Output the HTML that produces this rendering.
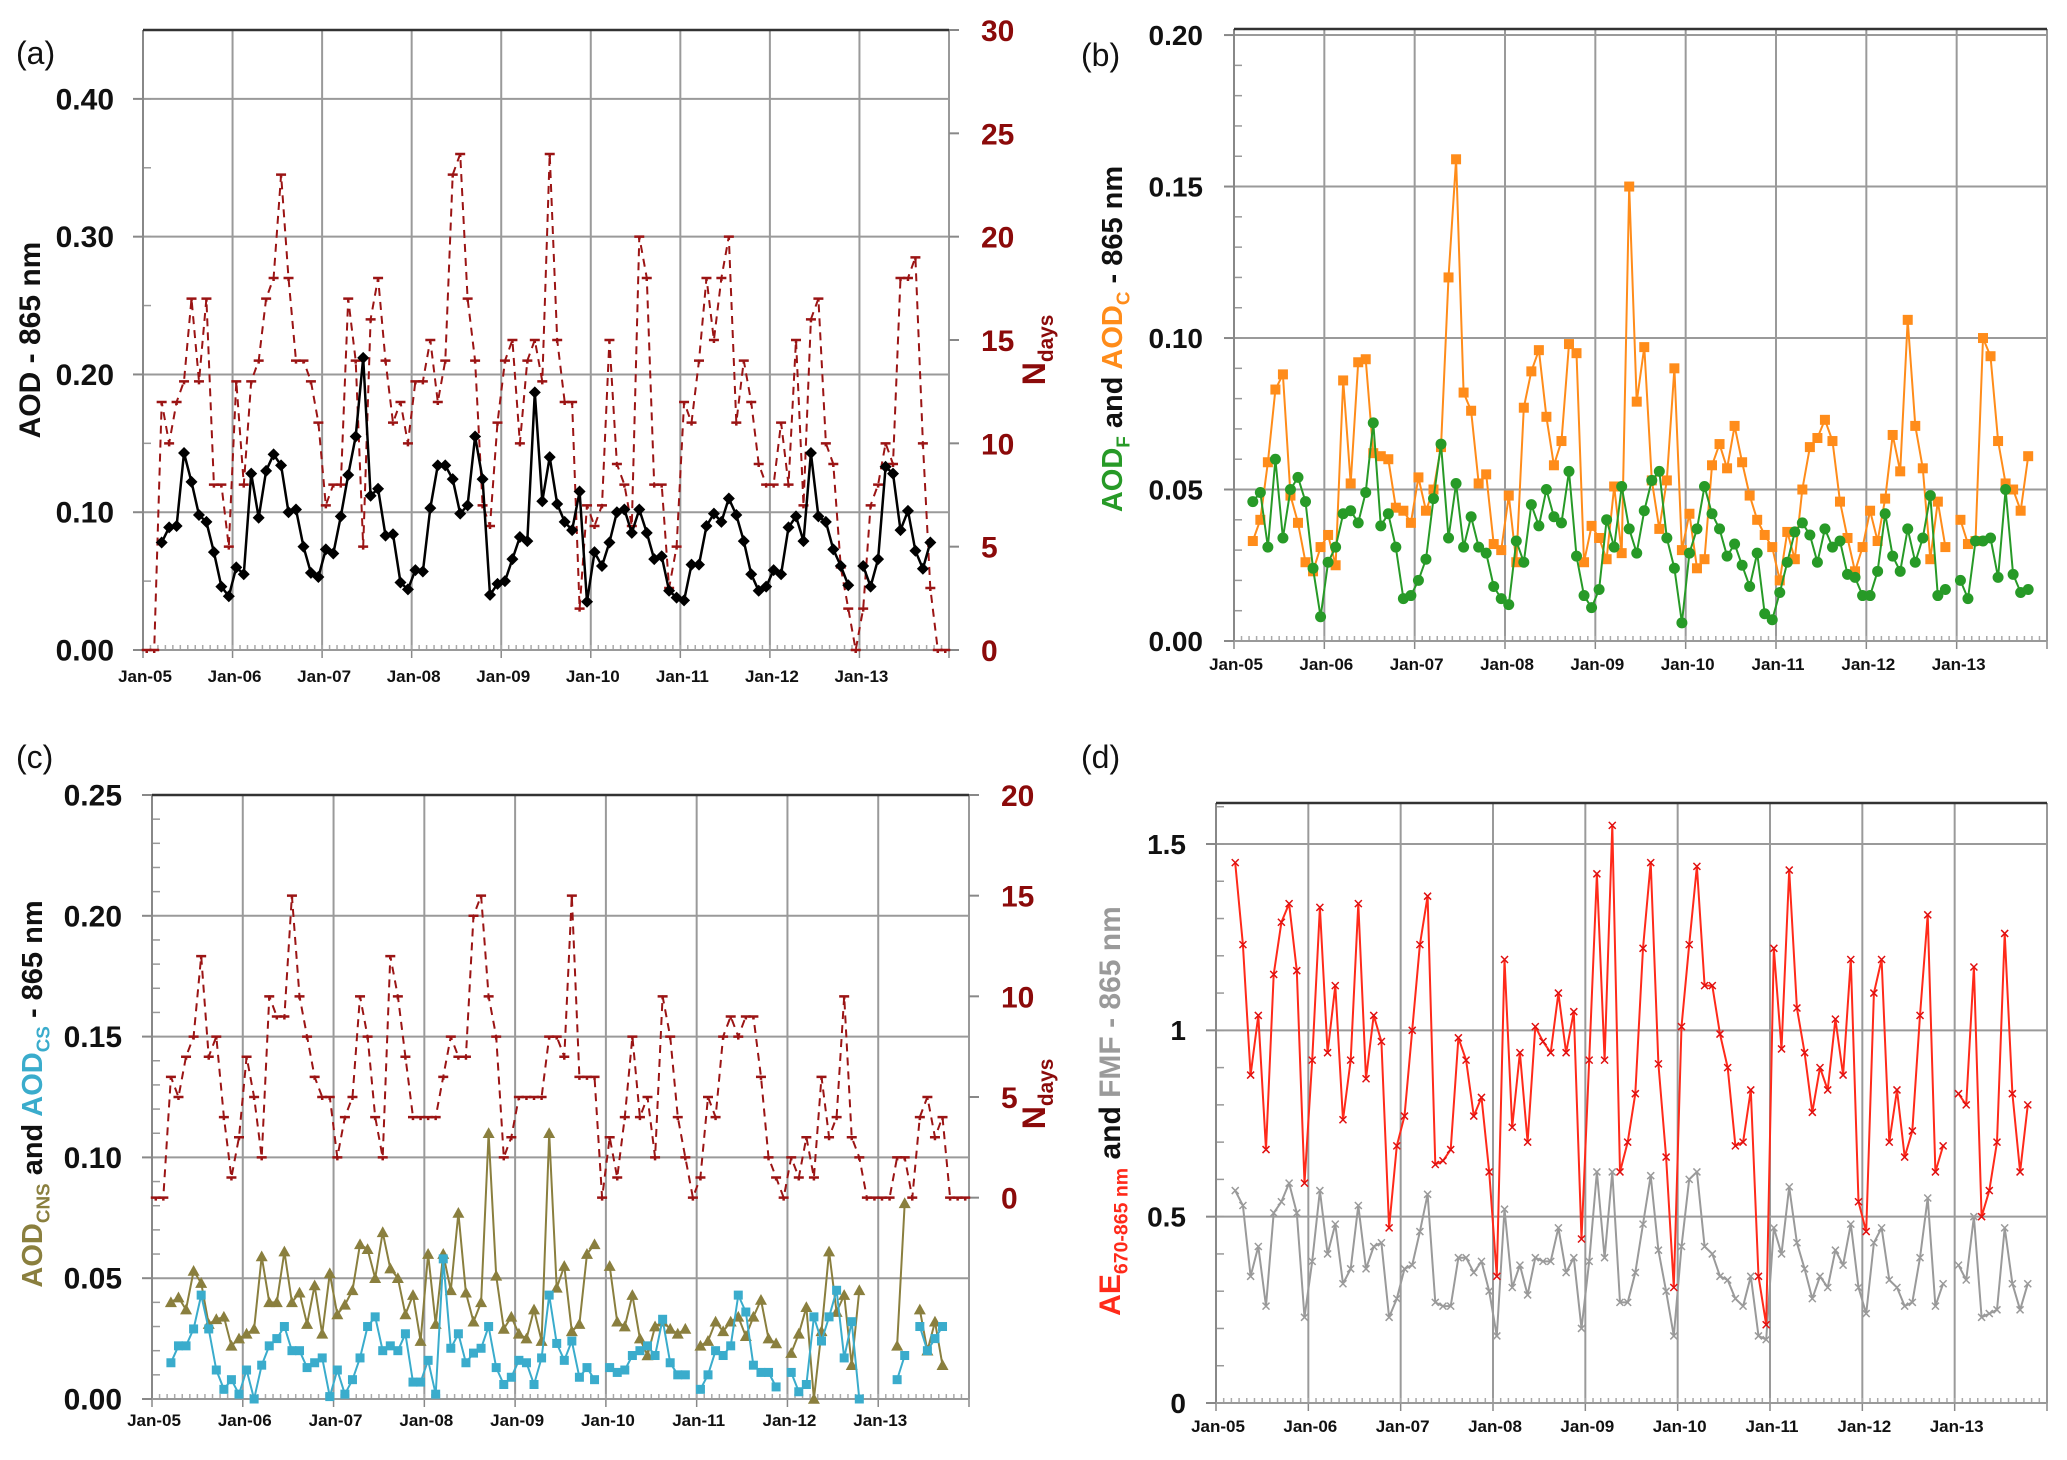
<!DOCTYPE html>
<html><head><meta charset="utf-8"><style>
html,body{margin:0;padding:0;background:#fff;}
svg{display:block;}
text{font-family:"Liberation Sans",sans-serif;}
</style></head><body>
<svg id="fig" xmlns="http://www.w3.org/2000/svg" width="2067" height="1460" viewBox="0 0 2067 1460">
<rect width="2067" height="1460" fill="#fff"/>
</svg>
<script>
// ---------- data (monthly, index 0 = Jan-05) ----------
const xLabels = ["Jan-05","Jan-06","Jan-07","Jan-08","Jan-09","Jan-10","Jan-11","Jan-12","Jan-13"];
const ticksA = [0,0.1,0.2,0.3,0.4];
const ticksARight = [0,5,10,15,20,25,30];
const ticksB = [0,0.05,0.1,0.15,0.2];
const ticksC = [0,0.05,0.1,0.15,0.2,0.25];
const ticksCRight = [0,5,10,15,20];
const ticksD = [0,0.5,1,1.5];
const ticksDLabels = ["0","0.5","1","1.5"];

const aodA = [null,null,
.078,.089,.090,.143,.122,.098,.093,.071,.046,.039,
.060,.055,.128,.096,.130,.142,.134,.100,.102,.075,
.056,.053,.073,.070,.097,.127,.155,.212,.112,.117,
.083,.084,.049,.044,.058,.057,.103,.134,.134,.124,
.099,.105,.155,.124,.040,.048,.050,.066,.082,.079,
.187,.108,.140,.106,.093,.087,.115,.035,.071,.061,
.078,.100,.102,.085,.102,.085,.066,.068,.043,.038,
.036,.062,.062,.090,.099,.093,.110,.098,.079,.055,
.043,.046,.058,.055,.089,.097,.079,.143,.097,.093,
.073,.061,.047,null,
.061,.046,.066,.133,.128,.087,.101,.072,.059,.078];
const ndaysA = [0,0,12,10,12,13,17,13,17,8,8,5,13,8,13,14,17,18,23,18,14,14,13,11,7,8,8,17,14,5,16,18,14,11,12,10,13,13,15,12,14,23,24,17,14,7,6,11,14,15,10,14,15,13,24,15,12,12,2,7,6,7,15,9,8,6,20,18,8,8,3,5,12,11,14,18,15,18,20,11,14,12,9,8,8,11,8,15,7,16,17,10,9,4,2,0,2,7,8,10,9,18,18,19,10,3,0,0];

const aodC = [null,null,
.033,.040,.059,.083,.088,.048,.039,.026,.023,.031,
.035,.025,.086,.052,.092,.093,.062,.061,.060,.044,
.043,.039,.054,.043,.050,.064,.120,.159,.082,.076,
.052,.055,.032,.030,.048,.026,.077,.089,.096,.074,
.058,.066,.098,.095,.026,.038,.034,.027,.051,.029,
.150,.079,.097,.053,.037,.053,.090,.030,.042,.024,
.027,.058,.065,.057,.071,.059,.048,.040,.035,.031,
.020,.036,.027,.050,.064,.067,.073,.066,.046,.034,
.023,.031,.043,.033,.047,.068,.056,.106,.071,.057,
.027,.046,.031,null,
.040,.032,.033,.100,.094,.066,.052,.050,.043,.061];
const aodF = [null,null,
.046,.049,.031,.060,.034,.050,.054,.046,.024,.008,
.026,.031,.042,.043,.039,.049,.072,.038,.042,.031,
.014,.015,.020,.027,.047,.065,.034,.052,.031,.041,
.031,.029,.018,.014,.012,.033,.026,.045,.038,.050,
.041,.039,.056,.028,.015,.011,.017,.040,.031,.051,
.037,.029,.043,.053,.056,.034,.024,.006,.029,.037,
.051,.042,.037,.028,.032,.025,.018,.029,.009,.007,
.016,.026,.036,.039,.035,.026,.037,.031,.033,.022,
.021,.015,.015,.023,.042,.028,.023,.037,.026,.034,
.048,.015,.017,null,
.020,.014,.033,.033,.034,.021,.050,.022,.016,.017];

const aodCNS = [null,null,
.040,.042,.037,.053,.048,.031,.033,.034,.022,.025,
.027,.029,.059,.040,.040,.061,.040,.044,.031,.047,
.027,.052,.035,.039,.045,.064,.062,.050,.069,.054,
.050,.035,.043,.024,.060,.031,.060,.045,.077,.044,
.032,.040,.110,.051,.029,.034,.027,.025,.037,.024,
.110,.046,.055,.028,.031,.060,.064,null,
.055,.032,.030,.043,.025,.018,.030,.032,.029,.027,.029,null,
.022,.024,.032,.028,.032,.034,.026,.034,.041,.025,.023,null,
.019,.027,.038,.000,.028,.061,.036,.043,.014,.045,null,null,null,null,
.022,.081,null,.037,.020,.032,.014];
const aodCS = [null,null,
.015,.022,.022,.029,.043,.029,.012,.004,.008,.002,
.012,.000,.014,.022,.025,.030,.020,.020,.013,.015,
.017,.001,.012,.002,.008,.017,.030,.034,.020,.022,
.020,.027,.007,.007,.016,.002,.058,.021,.027,.015,
.019,.021,.030,.013,.006,.009,.016,.015,.006,.017,
.043,.023,.016,.024,.009,.013,.008,null,
.013,.011,.012,.018,.020,.022,.018,.033,.015,.010,.010,null,
.004,.010,.020,.018,.022,.043,.036,.014,.011,.011,.005,null,
.011,.003,.006,.034,.024,.034,.045,.017,.032,.000,null,null,null,null,
.008,.018,null,.030,.020,.025,.030];
const ndaysC = [0,0,6,5,7,8,12,7,8,4,1,3,7,5,2,10,9,9,15,10,8,6,5,5,2,4,5,10,8,4,2,12,10,7,4,4,4,4,6,8,7,7,14,15,10,8,2,3,5,5,5,5,8,8,7,15,6,6,6,0,3,1,4,8,4,5,2,10,8,4,2,0,1,5,4,8,9,8,9,9,6,2,1,0,2,1,3,1,6,3,4,10,3,2,0,0,0,0,2,2,0,4,5,3,4,0,0,0];

const ae = [null,null,
1.45,1.23,.88,1.04,.68,1.15,1.29,1.34,1.16,.59,
.92,1.33,.94,1.12,.76,.92,1.34,.87,1.04,.97,
.47,.69,.77,1.00,1.23,1.36,.64,.65,.68,.98,
.92,.77,.82,.62,.34,1.19,.74,.94,.70,1.01,
.97,.94,1.10,.94,1.05,.44,.92,1.42,.92,1.55,
.62,.70,.83,1.22,1.45,.91,.66,.31,1.01,1.23,
1.44,1.12,1.12,.99,.90,.69,.70,.84,.34,.21,
1.22,.95,1.43,1.06,.94,.78,.90,.84,1.03,.88,
1.19,.54,.46,1.10,1.19,.70,.84,.66,.73,1.04,
1.31,.62,.69,null,
.83,.80,1.17,.50,.57,.70,1.26,.83,.62,.80];
const fmf = [null,null,
.57,.53,.34,.42,.26,.51,.54,.59,.51,.23,
.38,.57,.40,.48,.32,.36,.53,.36,.42,.43,
.23,.28,.36,.37,.46,.56,.27,.26,.26,.39,
.39,.35,.38,.30,.18,.52,.31,.37,.29,.39,
.38,.38,.47,.35,.39,.20,.38,.62,.39,.62,
.27,.27,.35,.48,.61,.41,.30,.18,.42,.60,
.62,.42,.40,.34,.33,.28,.26,.34,.18,.17,
.47,.40,.58,.43,.36,.28,.34,.31,.41,.37,
.48,.31,.24,.43,.47,.33,.31,.26,.27,.39,
.55,.26,.32,null,
.37,.33,.50,.23,.24,.25,.47,.32,.25,.32];

// ---------- helpers ----------
const NS = "http://www.w3.org/2000/svg";
const svg = document.getElementById('fig');
const NM = 108;
function mk(tag, attrs, parent) {
  const el = document.createElementNS(NS, tag);
  for (const k in attrs) el.setAttribute(k, attrs[k]);
  (parent || svg).appendChild(el);
  return el;
}
function scales(p) {
  return {
    x: i => p.L + (i + 0.5) * (p.R - p.L) / NM,
    xy: k => p.L + k * (p.R - p.L) / 9,
    y: v => p.B - (v - p.ymin) / (p.ymax - p.ymin) * (p.B - p.T)
  };
}
function frame(p, s, g, gridVals, leftLabels, labelSize, labelX, xLabY, minorStep) {
  gridVals.forEach((v, i) => {
    const yy = s.y(v);
    if (v !== 0) {
      const gl = mk('line', {x1:p.L, x2:p.R, y1:yy, y2:yy, stroke:'#9a9a9a', 'stroke-width':2}, g);
      
      
    }
    mk('line', {x1:p.L-10, x2:p.L, y1:yy, y2:yy, stroke:'#888', 'stroke-width':2}, g);
    const t = mk('text', {x:labelX, y:yy + labelSize*0.35, 'text-anchor':'end', 'font-size':labelSize, 'font-weight':'bold', fill:'#111'}, g);
    t.textContent = leftLabels[i];
    
    
  });
  for (let v = p.ymin; v <= p.ymax + 1e-9; v += minorStep) {
    const yy = s.y(v);
    mk('line', {x1:p.L, x2:p.L+8, y1:yy, y2:yy, stroke:'#999', 'stroke-width':1.5}, g);
  }
  for (let k = 1; k <= 8; k++) {
    const xx = s.xy(k);
    const vl = mk('line', {x1:xx, x2:xx, y1:p.T, y2:p.B, stroke:'#9a9a9a', 'stroke-width':2}, g);
    
    
  }
  for (let m = 0; m <= NM; m++) {
    const xx = p.L + m * (p.R - p.L) / NM;
    mk('line', {x1:xx, x2:xx, y1:p.B, y2:p.B-5, stroke:'#aaa', 'stroke-width':1.5}, g);
  }
  for (let k = 0; k <= 9; k++) {
    const xx = s.xy(k);
    mk('line', {x1:xx, x2:xx, y1:p.B, y2:p.B+8, stroke:'#888', 'stroke-width':1.5}, g);
  }
  const la = mk('line', {x1:p.L, x2:p.L, y1:p.T, y2:p.B, stroke:'#888', 'stroke-width':2}, g);
  
  
  mk('line', {x1:p.R, x2:p.R, y1:p.T, y2:p.B, stroke:'#999', 'stroke-width':2}, g);
  mk('line', {x1:p.L, x2:p.R, y1:p.T, y2:p.T, stroke:'#333', 'stroke-width':2.5}, g);
  const ba = mk('line', {x1:p.L, x2:p.R, y1:p.B, y2:p.B, stroke:'#999', 'stroke-width':2}, g);
  
  
  xLabels.forEach((lab, k) => {
    const t = mk('text', {x:s.xy(k)+2, y:xLabY, 'text-anchor':'middle', 'font-size':17, 'font-weight':'bold', fill:'#111'}, g);
    t.textContent = lab;
    
    
  });
}
function series(vals, xf, yf, color, width, dash, g, name) {
  let d = '', pen = false;
  vals.forEach((v, i) => {
    if (v === null || v === undefined) { pen = false; return; }
    d += (pen ? 'L' : 'M') + xf(i).toFixed(1) + ' ' + yf(v).toFixed(1) + ' ';
    pen = true;
  });
  const attrs = {d:d, fill:'none', stroke:color, 'stroke-width':width, 'stroke-linejoin':'round'};
  if (dash) attrs['stroke-dasharray'] = dash;
  const path = mk('path', attrs, g);
  
  
}
function markers(vals, xf, yf, shape, color, size, g, name) {
  vals.forEach((v, i) => {
    if (v === null || v === undefined) return;
    const cx = xf(i), cy = yf(v), r = size;
    let el;
    if (shape === 'diamond') el = mk('polygon', {points:`${cx},${cy-r} ${cx+r},${cy} ${cx},${cy+r} ${cx-r},${cy}`, fill:color}, g);
    else if (shape === 'square') el = mk('rect', {x:cx-r, y:cy-r, width:2*r, height:2*r, fill:color}, g);
    else if (shape === 'circle') el = mk('circle', {cx:cx, cy:cy, r:r, fill:color}, g);
    else if (shape === 'triangle') el = mk('polygon', {points:`${cx},${cy-r} ${cx+r},${cy+r*0.8} ${cx-r},${cy+r*0.8}`, fill:color}, g);
    else if (shape === 'dash') el = mk('path', {d:`M${cx-r} ${cy}H${cx+r}M${cx} ${cy}v3`, stroke:color, 'stroke-width':2.5, fill:'none'}, g);
    else el = mk('path', {d:`M${cx-r} ${cy-r}L${cx+r} ${cy+r}M${cx-r} ${cy+r}L${cx+r} ${cy-r}`, stroke:color, 'stroke-width':1.5, fill:'none'}, g);
    
    
  });
}
function rotTitle(x, y, parts, size, g, name) {
  const t = mk('text', {transform:`translate(${x},${y}) rotate(-90)`, 'text-anchor':'middle', 'font-size':size, 'font-weight':'bold'}, g);
  parts.forEach(pt => {
    const ts = mk('tspan', {fill:pt[1]}, t);
    if (pt[2]) { ts.setAttribute('font-size', size*0.65); ts.setAttribute('dy', size*0.25); }
    else if (pt[3]) { ts.setAttribute('dy', -size*0.25); }
    ts.textContent = pt[0];
  });
  
  
}
function panelLabel(x, y, txt, g) {
  const t = mk('text', {x:x, y:y, 'font-size':32, fill:'#111'}, g);
  t.textContent = txt;
  
  
}
const DR = '#8b0a0a';

// ---------- panel (a) ----------
{
  const g = mk('g', {});
  
  
  const p = {L:143, R:949, T:30, B:650, ymin:0, ymax:0.45};
  const s = scales(p);
  frame(p, s, g, ticksA, ticksA.map(v => v.toFixed(2)), 30, 114, 682, 0.05);
  const yN = n => p.B - n / 30 * (p.B - p.T);
  ticksARight.forEach(n => {
    mk('line', {x1:p.R, x2:p.R+10, y1:yN(n), y2:yN(n), stroke:'#888', 'stroke-width':2}, g);
    const t = mk('text', {x:p.R+32, y:yN(n)+11, 'font-size':30, 'font-weight':'bold', fill:DR}, g);
    t.textContent = n;
    
    
  });
  series(ndaysA, s.x, yN, '#9b1414', 2, '8 6', g, 'ndays');
  markers(ndaysA, s.x, yN, 'dash', '#9b1414', 5, g, 'ndays');
  series(aodA, s.x, s.y, '#000', 2.5, null, g, 'aod');
  markers(aodA, s.x, s.y, 'diamond', '#000', 6, g, 'aod');
  rotTitle(40, 340, [['AOD - 865 nm', '#111']], 30, g, 'y-axis-title');
  rotTitle(1045, 350, [['N', DR], ['days', DR, true]], 32, g, 'right-axis-title');
  panelLabel(16, 64, '(a)', g);
}
// ---------- panel (b) ----------
{
  const g = mk('g', {});
  
  
  const p = {L:1234, R:2047, T:29, B:641, ymin:0, ymax:0.202};
  const s = scales(p);
  frame(p, s, g, ticksB, ticksB.map(v => v.toFixed(2)), 28, 1203, 670, 0.01);
  series(aodC, s.x, s.y, '#ff8c1a', 2, null, g, 'aod-c');
  markers(aodC, s.x, s.y, 'square', '#ff8c1a', 5, g, 'aod-c');
  series(aodF, s.x, s.y, '#279a27', 2, null, g, 'aod-f');
  markers(aodF, s.x, s.y, 'circle', '#279a27', 5.5, g, 'aod-f');
  rotTitle(1122, 339, [['AOD', '#279a27'], ['F', '#279a27', true], [' and ', '#111', false, true], ['AOD', '#ff8c1a'], ['C', '#ff8c1a', true], [' - 865 nm', '#111', false, true]], 29, g, 'y-axis-title');
  panelLabel(1081, 66, '(b)', g);
}
// ---------- panel (c) ----------
{
  const g = mk('g', {});
  
  
  const p = {L:152, R:969, T:795, B:1399, ymin:0, ymax:0.25};
  const s = scales(p);
  frame(p, s, g, ticksC, ticksC.map(v => v.toFixed(2)), 30, 122, 1426, 0.01);
  const yN = n => s.y(0.25/3 + n * (0.5/3) / 20);
  ticksCRight.forEach(n => {
    mk('line', {x1:p.R, x2:p.R+10, y1:yN(n), y2:yN(n), stroke:'#888', 'stroke-width':2}, g);
    const t = mk('text', {x:p.R+32, y:yN(n)+11, 'font-size':30, 'font-weight':'bold', fill:DR}, g);
    t.textContent = n;
    
    
  });
  series(ndaysC, s.x, yN, '#9b1414', 2, '8 6', g, 'ndays');
  markers(ndaysC, s.x, yN, 'dash', '#9b1414', 5, g, 'ndays');
  series(aodCNS, s.x, s.y, '#8a7f3e', 2, null, g, 'aod-cns');
  markers(aodCNS, s.x, s.y, 'triangle', '#8a7f3e', 6, g, 'aod-cns');
  series(aodCS, s.x, s.y, '#3aaccc', 2, null, g, 'aod-cs');
  markers(aodCS, s.x, s.y, 'square', '#3aaccc', 4.5, g, 'aod-cs');
  rotTitle(42, 1094, [['AOD', '#8a7f3e'], ['CNS', '#8a7f3e', true], [' and ', '#111', false, true], ['AOD', '#3aaccc'], ['CS', '#3aaccc', true], [' - 865 nm', '#111', false, true]], 29, g, 'y-axis-title');
  rotTitle(1045, 1094, [['N', DR], ['days', DR, true]], 32, g, 'right-axis-title');
  panelLabel(16, 768, '(c)', g);
}
// ---------- panel (d) ----------
{
  const g = mk('g', {});
  
  
  const p = {L:1216, R:2047, T:803, B:1403, ymin:0, ymax:1.61};
  const s = scales(p);
  frame(p, s, g, ticksD, ticksDLabels, 28, 1186, 1432, 0.1);
  series(fmf, s.x, s.y, '#9a9a9a', 2, null, g, 'fmf');
  markers(fmf, s.x, s.y, 'x', '#9a9a9a', 3.5, g, 'fmf');
  series(ae, s.x, s.y, '#ff2a1a', 2, null, g, 'ae');
  markers(ae, s.x, s.y, 'x', '#e01010', 3.5, g, 'ae');
  rotTitle(1120, 1111, [['AE', '#ff2a1a'], ['670-865 nm', '#ff2a1a', true], [' and ', '#111', false, true], ['FMF - 865 nm', '#9a9a9a']], 30, g, 'y-axis-title');
  panelLabel(1081, 768, '(d)', g);
}
</script>
</body></html>
